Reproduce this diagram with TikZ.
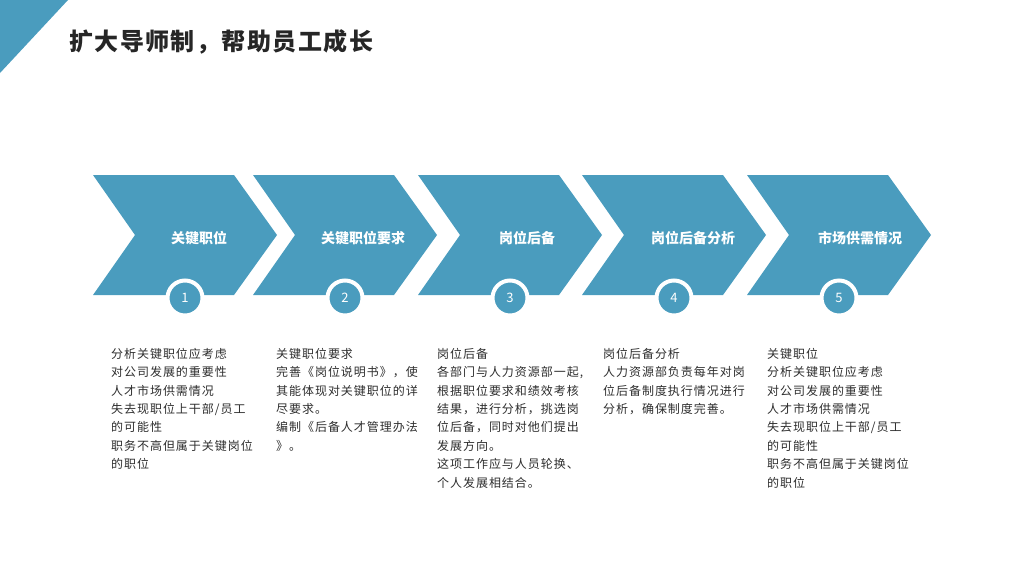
\documentclass[tikz,border=0pt]{standalone}
\usepackage{fontspec}
\usepackage{tikz}
\usetikzlibrary{positioning}
\newfontfamily\cjk{Noto Sans CJK SC}
\newfontfamily\cjkbody{Noto Sans CJK SC}[LetterSpace=8]
\newfontfamily\cjktitle{Noto Sans CJK SC}[LetterSpace=6]
\definecolor{chev}{RGB}{74,156,190}
\definecolor{ink}{RGB}{45,45,45}
\definecolor{head}{RGB}{38,38,38}
\tikzset{
  title/.style={anchor=west, inner sep=0, text=head, font=\cjktitle\bfseries\fontsize{24}{28}\selectfont},
  lbl/.style={text=white, inner sep=0, font=\cjk\bfseries\fontsize{14}{16}\selectfont},
  num/.style={circle, fill=chev, draw=white, line width=4pt, minimum size=35pt, inner sep=0,
    text=white, font=\cjk\fontsize{13}{15}\selectfont},
  body/.style={anchor=north west, inner sep=0, align=left, text=ink,
    font=\cjkbody\fontsize{12}{18.4}\selectfont}
}
\begin{document}
\begin{tikzpicture}[x=1pt,y=-1pt]
  \useasboundingbox (0,0) rectangle (1024,576);
  \fill[chev] (0,0) -- (68,0) -- (0,73) -- cycle;
  \node[title] (title) at (69,42) {扩大导师制，帮助员工成长};
  % chevrons with numbers
  \foreach \x/\lx/\n/\lab in {93/199/1/关键职位, 253/363/2/关键职位要求, 418/527/3/岗位后备, 582/693/4/岗位后备分析, 747/860/5/市场供需情况}{
    \fill[chev] (\x,175) -- (\x+141,175) -- (\x+184,235) -- (\x+141,295) -- (\x,295) -- (\x+42,235) -- cycle;
    \node[lbl] (lbl\n) at (\lx,238) {\lab};
    \node[num] (c\n) at (\x+92,298) {\n};
  };
  % text blocks
  \node[body] (t1) at (111,348) {分析关键职位应考虑\\对公司发展的重要性\\人才市场供需情况\\失去现职位上干部/员工\\的可能性\\职务不高但属于关键岗位\\的职位};
  \node[body] (t2) at (276,348) {关键职位要求\\完善《岗位说明书》，使\\其能体现对关键职位的详\\尽要求。\\编制《后备人才管理办法\\》。};
  \node[body] (t3) at (437,348) {岗位后备\\各部门与人力资源部一起,\\根据职位要求和绩效考核\\结果，进行分析，挑选岗\\位后备，同时对他们提出\\发展方向。\\这项工作应与人员轮换、\\个人发展相结合。};
  \node[body] (t4) at (603,348) {岗位后备分析\\人力资源部负责每年对岗\\位后备制度执行情况进行\\分析，确保制度完善。};
  \node[body] (t5) at (767,348) {关键职位\\分析关键职位应考虑\\对公司发展的重要性\\人才市场供需情况\\失去现职位上干部/员工\\的可能性\\职务不高但属于关键岗位\\的职位};
\end{tikzpicture}
\end{document}
